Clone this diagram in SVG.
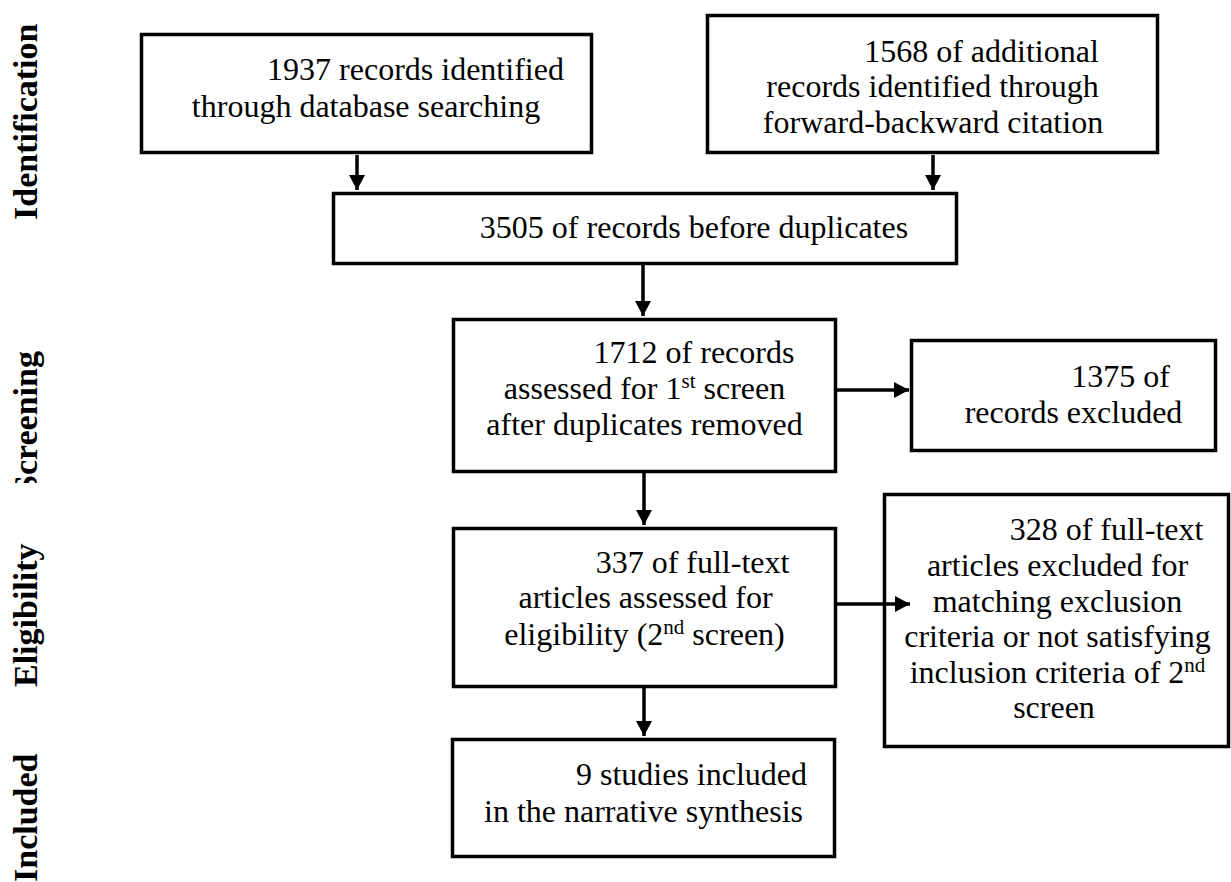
<svg xmlns="http://www.w3.org/2000/svg" width="1231" height="882" viewBox="0 0 1231 882">
<defs>
<style>
.box{fill:#fff;stroke:#000;stroke-width:3.5}
.t{font-family:"Liberation Serif","Times New Roman",serif;font-size:32px;fill:#000;text-anchor:middle}
.lbl{font-family:"Liberation Serif","Times New Roman",serif;font-size:34px;font-weight:bold;fill:#000}
.sup{font-size:21px}
.con{stroke:#000;stroke-width:3.5;fill:none;marker-end:url(#ah)}
</style>
<marker id="ah" markerUnits="userSpaceOnUse" markerWidth="16" markerHeight="16" refX="15" refY="8" orient="auto">
<path d="M0,0 L15,8 L0,16 z" fill="#000"/>
</marker>
<clipPath id="scrClip"><rect x="0" y="300" width="120" height="183"/></clipPath>
</defs>
<rect width="1231" height="882" fill="#fff"/>

<g id="stage-labels">
<text class="lbl" transform="translate(37,220) rotate(-90)">Identification</text>
<g clip-path="url(#scrClip)"><text class="lbl" transform="translate(37,494) rotate(-90)">Screening</text></g>
<text class="lbl" transform="translate(37,687) rotate(-90)">Eligibility</text>
<text class="lbl" transform="translate(37,882) rotate(-90)">Included</text>
</g>

<g id="connectors">
<line class="con" x1="357" y1="155" x2="357" y2="190"/>
<line class="con" x1="933" y1="155" x2="933" y2="190"/>
<line class="con" x1="643" y1="265" x2="643" y2="316"/>
<line class="con" x1="837" y1="390" x2="909" y2="390"/>
<line class="con" x1="644" y1="473" x2="644" y2="525"/>
<line class="con" x1="837" y1="604" x2="910" y2="604"/>
<line class="con" x1="644" y1="688" x2="644" y2="736"/>
</g>

<g id="n1937">
<rect class="box" x="141.5" y="34.5" width="450" height="118"/>
<text class="t" x="415.5" y="80">1937 records identified</text>
<text class="t" x="366" y="117">through database searching</text>
</g>

<g id="n1568">
<rect class="box" x="707.5" y="15.5" width="450" height="137"/>
<text class="t" x="981.5" y="62">1568 of additional</text>
<text class="t" x="932.5" y="97">records identified through</text>
<text class="t" x="933" y="133">forward-backward citation</text>
</g>

<g id="n3505">
<rect class="box" x="333.5" y="193.5" width="623" height="70"/>
<text class="t" x="694" y="238">3505 of records before duplicates</text>
</g>

<g id="n1712">
<rect class="box" x="453.5" y="319.5" width="382" height="152"/>
<text class="t" x="694" y="363">1712 of records</text>
<text class="t" x="644.5" y="399">assessed for 1<tspan class="sup" dy="-11">st</tspan><tspan dy="11"> screen</tspan></text>
<text class="t" x="644.5" y="435">after duplicates removed</text>
</g>

<g id="n1375">
<rect class="box" x="911.5" y="340.5" width="304" height="110"/>
<text class="t" x="1120.5" y="387">1375 of</text>
<text class="t" x="1073.5" y="423">records excluded</text>
</g>

<g id="n337">
<rect class="box" x="453.5" y="528.5" width="382" height="158"/>
<text class="t" x="692.5" y="573">337 of full-text</text>
<text class="t" x="645.5" y="608">articles assessed for</text>
<text class="t" x="644.5" y="645">eligibility (2<tspan class="sup" dy="-11">nd</tspan><tspan dy="11"> screen)</tspan></text>
</g>

<g id="n328">
<rect class="box" x="884.5" y="494.5" width="344" height="252" style="fill:none"/>
<text class="t" x="1106.5" y="540">328 of full-text</text>
<text class="t" x="1057.5" y="576">articles excluded for</text>
<text class="t" x="1057.5" y="612">matching exclusion</text>
<text class="t" x="1057.5" y="647">criteria or not satisfying</text>
<text class="t" x="1057.5" y="683">inclusion criteria of 2<tspan class="sup" dy="-11">nd</tspan></text>
<text class="t" x="1054" y="718">screen</text>
</g>

<g id="n9">
<rect class="box" x="452.5" y="739.5" width="382" height="117"/>
<text class="t" x="691.5" y="785">9 studies included</text>
<text class="t" x="643.5" y="822">in the narrative synthesis</text>
</g>
</svg>
